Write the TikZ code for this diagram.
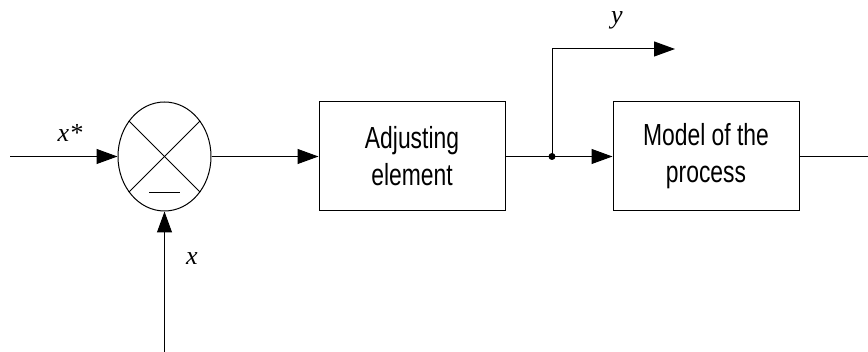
\documentclass[tikz,border=0pt]{standalone}
\usepackage{fontspec}
\setmainfont{Liberation Serif}
\newfontfamily\boxfont[FakeStretch=0.75]{Liberation Sans}
\usetikzlibrary{arrows.meta,shapes.geometric}
\begin{document}
\begin{tikzpicture}[x=1pt,y=-1pt,
  line width=1pt,
  sig/.style={-{Triangle[length=21pt,width=15pt]}},
  blockbox/.style={draw,minimum width=186pt,minimum height=109pt,align=center,
    font=\boxfont\fontsize{30.5}{37}\selectfont,inner sep=0pt},
  lbl/.style={font=\itshape\fontsize{26}{30}\selectfont,inner sep=0pt}]
\useasboundingbox (0,0) rectangle (868,352);
% summing junction
\node[draw,ellipse,minimum width=93pt,minimum height=109pt,inner sep=0pt] (sum) at (164.5,156.5) {};
\draw (sum.45) -- (sum.225);
\draw (sum.135) -- (sum.-45);
\coordinate (mA) at (149,193);
\coordinate (mB) at (180,193);
\draw (mA) -- (mB);
% blocks
\node[blockbox] (adj) at (412,156.5) {Adjusting\\element};
\node[blockbox] (mod) at (706,156.5) {Model of the\\process};
% inputs
\coordinate (in) at (10,156.5);
\coordinate (fb) at (164.5,352);
\coordinate (out) at (868,156.5);
\coordinate (up) at (552,49);
\coordinate (yend) at (675,49);
\draw[sig] (in) -- (sum.west);
\draw[sig] (fb) -- (sum.south);
\draw[sig] (sum.east) -- (adj.west);
\coordinate (br) at (552,156.5);
\draw (adj.east) -- (br);
\draw[sig] (br) -- (mod.west);
\draw[sig] (br) -- (up) -- (yend);
\fill (br) circle (3.5pt);
\draw (mod.east) -- (out);
% labels
\node[lbl] (lxs) at (70,133) {x*};
\node[lbl] (lx) at (192,259) {x};
\node[lbl] (ly) at (617,20) {y};
\end{tikzpicture}
\end{document}
